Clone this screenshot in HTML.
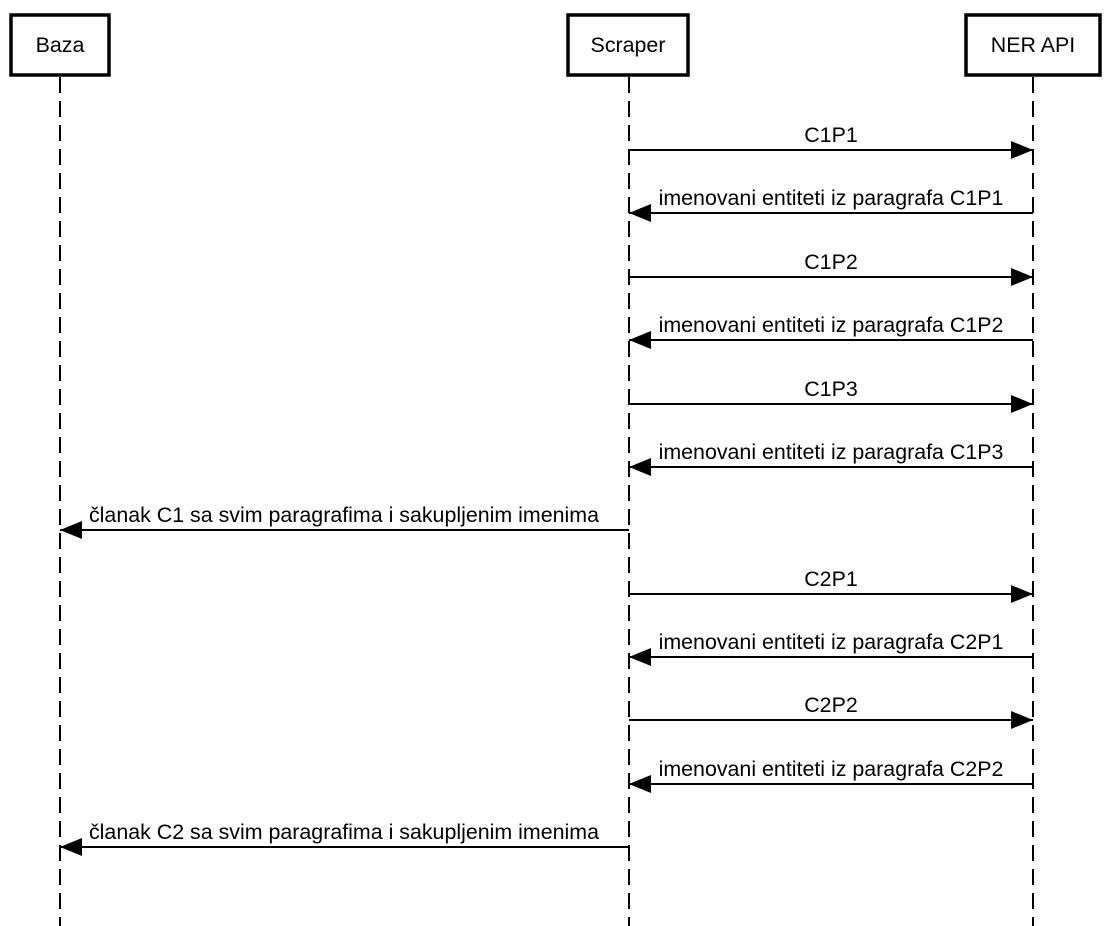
<!DOCTYPE html>
<html><head><meta charset="utf-8"><style>
html,body{margin:0;padding:0;background:#fff;}
svg{display:block;}
text{font-family:"Liberation Sans",Arial,sans-serif;font-size:21.4px;fill:#000;}
</style></head><body>
<svg width="1111" height="926" viewBox="0 0 1111 926">
<defs>
<marker id="a" markerWidth="22" markerHeight="18" refX="22" refY="9" orient="auto" markerUnits="userSpaceOnUse">
<path d="M0,0 L22,9 L0,18 Z" fill="#000"/></marker>
</defs>
<g stroke="#000" stroke-width="2" stroke-dasharray="16,8" fill="none">
<line x1="60" y1="77" x2="60" y2="926"/>
<line x1="629" y1="77" x2="629" y2="926"/>
<line x1="1033" y1="77" x2="1033" y2="926"/>
</g>
<g stroke="#000" stroke-width="3.5" fill="#fff">
<rect x="11" y="15" width="98" height="60"/>
<rect x="568" y="15" width="120" height="60"/>
<rect x="966" y="15" width="134" height="60"/>
</g>
<text x="60" y="52" text-anchor="middle">Baza</text>
<text x="628" y="52" text-anchor="middle">Scraper</text>
<text x="1033" y="52" text-anchor="middle">NER API</text>
<g stroke="#000" stroke-width="2" marker-end="url(#a)">
<line x1="629" y1="150" x2="1033" y2="150"/>
<line x1="1033" y1="213" x2="629" y2="213"/>
<line x1="629" y1="277" x2="1033" y2="277"/>
<line x1="1033" y1="340" x2="629" y2="340"/>
<line x1="629" y1="404" x2="1033" y2="404"/>
<line x1="1033" y1="467" x2="629" y2="467"/>
<line x1="629" y1="530" x2="60" y2="530"/>
<line x1="629" y1="594" x2="1033" y2="594"/>
<line x1="1033" y1="657" x2="629" y2="657"/>
<line x1="629" y1="720" x2="1033" y2="720"/>
<line x1="1033" y1="784" x2="629" y2="784"/>
<line x1="629" y1="847" x2="60" y2="847"/>
</g>
<g text-anchor="middle">
<text x="831" y="142">C1P1</text>
<text x="831" y="205">imenovani entiteti iz paragrafa C1P1</text>
<text x="831" y="269">C1P2</text>
<text x="831" y="332">imenovani entiteti iz paragrafa C1P2</text>
<text x="831" y="396">C1P3</text>
<text x="831" y="459">imenovani entiteti iz paragrafa C1P3</text>
<text x="344" y="522">članak C1 sa svim paragrafima i sakupljenim imenima</text>
<text x="831" y="586">C2P1</text>
<text x="831" y="649">imenovani entiteti iz paragrafa C2P1</text>
<text x="831" y="712">C2P2</text>
<text x="831" y="776">imenovani entiteti iz paragrafa C2P2</text>
<text x="344" y="839">članak C2 sa svim paragrafima i sakupljenim imenima</text>
</g>
</svg>
</body></html>
